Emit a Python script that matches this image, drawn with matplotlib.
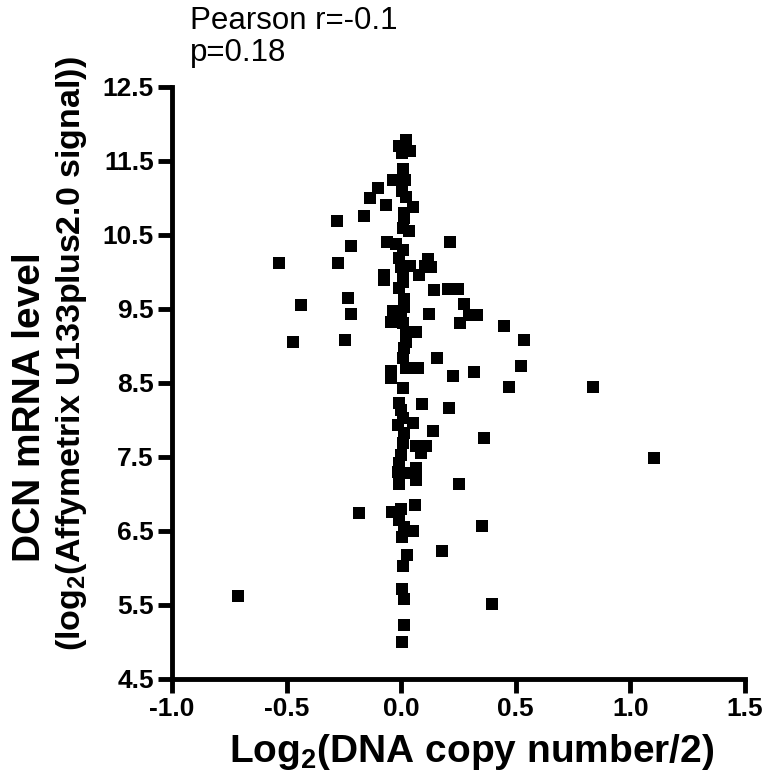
import matplotlib
matplotlib.use('Agg')
import matplotlib.pyplot as plt

# copy number (log2 ratio) vs DCN expression
copy_number = [
    0.020, -0.011, 0.037, 0.002, 0.007, -0.037, 0.015, -0.103, 0.002, 0.020,
    -0.134, -0.068, 0.050, 0.011, -0.164, -0.278, 0.011, 0.007, 0.033, -0.063,
    -0.024, 0.212, -0.221, 0.007, -0.274, -0.011, 0.116, -0.002, 0.037, 0.103,
    0.129, -0.077, 0.007, 0.077, -0.077, 0.007, -0.011, 0.142, 0.204, 0.247,
    0.011, -0.230, 0.274, 0.011, -0.037, -0.221, 0.120, -0.002, 0.296, 0.331,
    -0.046, 0.007, 0.256, 0.063, 0.020, -0.247, 0.020, 0.011, 0.155, 0.007,
    -0.046, 0.020, 0.072, -0.046, 0.225, 0.317, 0.007, 0.090, -0.011, 0.208,
    -0.002, 0.007, 0.050, -0.015, 0.138, 0.011, 0.007, 0.063, 0.107, 0.085,
    -0.002, -0.011, 0.063, -0.015, 0.020, 0.063, -0.011, 0.252, 0.059, -0.186,
    -0.042, -0.002, -0.011, 0.011, 0.050, 0.002, 0.024, 0.177, 0.007, 0.002,
    0.011, 0.011, 0.002,
    0.449, 0.536, 0.523, 0.471, 0.838, 0.361, 0.352, 0.396, 1.101,
    -0.532, -0.436, -0.471, -0.711,
]
dcn_level = [
    11.78, 11.70, 11.64, 11.61, 11.39, 11.24, 11.24, 11.14, 11.09, 11.01,
    11.00, 10.91, 10.88, 10.80, 10.76, 10.69, 10.73, 10.59, 10.55, 10.41,
    10.38, 10.41, 10.35, 10.30, 10.12, 10.19, 10.18, 10.07, 10.08, 10.08,
    10.07, 9.96, 9.96, 9.96, 9.89, 9.86, 9.78, 9.76, 9.77, 9.77,
    9.64, 9.65, 9.57, 9.53, 9.47, 9.43, 9.43, 9.42, 9.42, 9.42,
    9.32, 9.31, 9.31, 9.19, 9.19, 9.08, 9.05, 8.97, 8.84, 8.84,
    8.66, 8.70, 8.70, 8.57, 8.59, 8.65, 8.43, 8.22, 8.23, 8.16,
    8.14, 8.03, 7.96, 7.93, 7.85, 7.82, 7.69, 7.65, 7.65, 7.55,
    7.53, 7.42, 7.35, 7.30, 7.28, 7.19, 7.14, 7.14, 6.85, 6.74,
    6.76, 6.80, 6.65, 6.55, 6.50, 6.42, 6.18, 6.23, 6.03, 5.72,
    5.58, 5.23, 5.00,
    9.27, 9.08, 8.73, 8.45, 8.45, 7.76, 6.57, 5.51, 7.49,
    10.12, 9.55, 9.05, 5.62,
]

xticks = [-1.0, -0.5, 0.0, 0.5, 1.0, 1.5]
yticks = [4.5, 5.5, 6.5, 7.5, 8.5, 9.5, 10.5, 11.5, 12.5]

plt.rcParams['font.family'] = ['Liberation Sans', 'DejaVu Sans']
plt.rcParams['mathtext.fontset'] = 'custom'
plt.rcParams['mathtext.rm'] = 'Liberation Sans:bold'
plt.rcParams['mathtext.bf'] = 'Liberation Sans:bold'

fig = plt.figure(figsize=(7.71, 7.82), dpi=100)
ax = fig.add_axes([172/771, 1-679/782, (745-172)/771, (679-87)/782])

ax.scatter(copy_number, dcn_level, marker='s', s=75, color='black',
           linewidths=0, clip_on=False, zorder=3)

ax.set_xlim(-1.0, 1.5)
ax.set_ylim(4.5, 12.5)
ax.set_xticks(xticks)
ax.set_xticklabels(['%.1f' % t for t in xticks])
ax.set_yticks(yticks)
ax.set_yticklabels(['%.1f' % t for t in yticks])

for side in ['top', 'right']:
    ax.spines[side].set_visible(False)
for side in ['left', 'bottom']:
    ax.spines[side].set_linewidth(3.5)
ax.tick_params(direction='out', length=10, width=3.5, labelsize=19, pad=3)
for lab in ax.get_xticklabels() + ax.get_yticklabels():
    lab.set_fontweight('bold')

fig.text(472/771, 1-752/782, r'Log$_2$(DNA copy number/2)', ha='center',
         va='center', fontsize=28, fontweight='bold')
fig.text(30/771, 1-407/782, 'DCN mRNA level', rotation=90, ha='center',
         va='center', fontsize=28, fontweight='bold')
fig.text(72/771, 1-354/782, r'(log$_2$(Affymetrix U133plus2.0 signal))',
         rotation=90, ha='center', va='center', fontsize=24.5, fontweight='bold')

fig.text(190/771, 1-6/782, 'Pearson r=-0.1\np=0.18', ha='left', va='top',
         fontsize=22.5, linespacing=1.1)

fig.savefig('out.png', dpi=100)
